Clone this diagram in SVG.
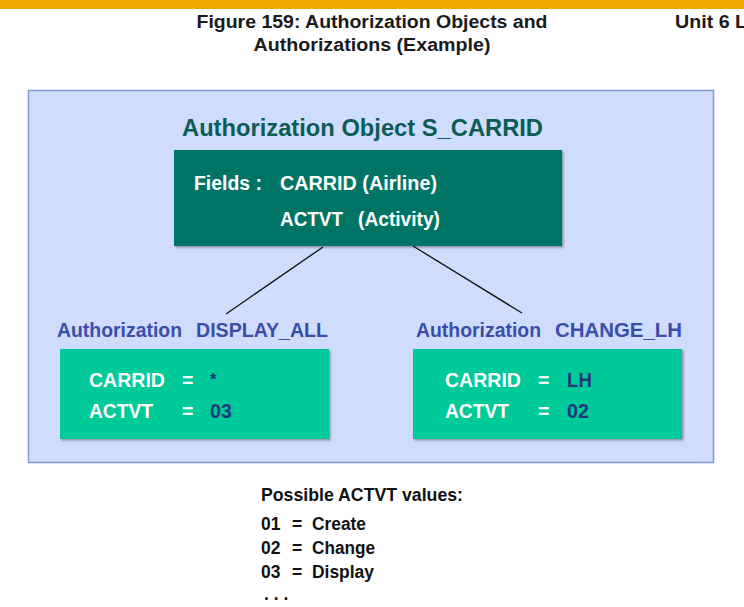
<svg xmlns="http://www.w3.org/2000/svg" width="744" height="607" viewBox="0 0 744 607">
<style>
text{font-family:"Liberation Sans",Arial,sans-serif;font-weight:bold}
.hdr{font-size:18px;fill:#1a1a1a}
.ttl{font-size:23px;fill:#0b5c55}
.wt{font-size:19.5px;fill:#ffffff}
.au{font-size:19.5px;fill:#3a4ea8}
.val{font-size:19.5px;fill:#1f3a7a}
.bt{font-size:17.5px;fill:#111}
.conn{stroke:#111;stroke-width:1.3;fill:none}
</style>
<defs>
<filter id="sh" x="-5%" y="-5%" width="110%" height="115%"><feDropShadow dx="1.5" dy="1.5" stdDeviation="0.8" flood-color="#000" flood-opacity="0.35"/></filter>
</defs>
<rect x="0" y="0" width="744" height="607" fill="#ffffff"/>
<rect x="0" y="0" width="744" height="9" fill="#f0a800"/>
<text class="hdr" x="372" y="28" text-anchor="middle" textLength="351" lengthAdjust="spacingAndGlyphs">Figure 159: Authorization Objects and</text>
<text class="hdr" x="372" y="51" text-anchor="middle" textLength="237" lengthAdjust="spacingAndGlyphs">Authorizations (Example)</text>
<text class="hdr" x="675" y="28" textLength="72" lengthAdjust="spacingAndGlyphs">Unit 6 L</text>

<g id="panel"><rect x="28.5" y="90.5" width="685" height="372" fill="#d0dcfc" stroke="#7f9ac8" stroke-width="1.5"/></g>

<g id="connectors">
<line class="conn" x1="323" y1="247" x2="226" y2="314"/>
<line class="conn" x1="413" y1="246" x2="522" y2="313"/>
</g>

<g id="object">
<text class="ttl" x="182" y="136" textLength="361" lengthAdjust="spacingAndGlyphs">Authorization Object S_CARRID</text>
<rect x="174" y="150" width="388" height="96" fill="#007466" filter="url(#sh)"/>
<text class="wt" x="194" y="190" textLength="68" lengthAdjust="spacingAndGlyphs">Fields :</text>
<text class="wt" x="280" y="190" textLength="157" lengthAdjust="spacingAndGlyphs">CARRID (Airline)</text>
<text class="wt" x="280" y="226" textLength="63" lengthAdjust="spacingAndGlyphs">ACTVT</text>
<text class="wt" x="358" y="226" textLength="82" lengthAdjust="spacingAndGlyphs">(Activity)</text>
</g>

<g id="auth-display">
<text class="au" x="57" y="337" textLength="125" lengthAdjust="spacingAndGlyphs">Authorization</text>
<text class="au" x="196" y="337" textLength="132" lengthAdjust="spacingAndGlyphs">DISPLAY_ALL</text>
<rect x="60" y="349" width="269" height="90" fill="#00c99a" filter="url(#sh)"/>
<text class="wt" x="89" y="387" textLength="76" lengthAdjust="spacingAndGlyphs">CARRID</text>
<text class="wt" x="182" y="387">=</text>
<text class="val" x="210" y="385" style="font-size:17px">*</text>
<text class="wt" x="89" y="418" textLength="64" lengthAdjust="spacingAndGlyphs">ACTVT</text>
<text class="wt" x="182" y="418">=</text>
<text class="val" x="210" y="418" textLength="22" lengthAdjust="spacingAndGlyphs">03</text>
</g>

<g id="auth-change">
<text class="au" x="416" y="337" textLength="125" lengthAdjust="spacingAndGlyphs">Authorization</text>
<text class="au" x="555" y="337" textLength="127" lengthAdjust="spacingAndGlyphs">CHANGE_LH</text>
<rect x="413" y="349" width="269" height="90" fill="#00c99a" filter="url(#sh)"/>
<text class="wt" x="445" y="387" textLength="76" lengthAdjust="spacingAndGlyphs">CARRID</text>
<text class="wt" x="538" y="387">=</text>
<text class="val" x="567" y="387" textLength="25" lengthAdjust="spacingAndGlyphs">LH</text>
<text class="wt" x="445" y="418" textLength="64" lengthAdjust="spacingAndGlyphs">ACTVT</text>
<text class="wt" x="538" y="418">=</text>
<text class="val" x="567" y="418" textLength="22" lengthAdjust="spacingAndGlyphs">02</text>
</g>

<g id="values">
<text class="bt" x="261" y="501" textLength="202" lengthAdjust="spacingAndGlyphs">Possible ACTVT values:</text>
<text class="bt" x="261" y="530">01</text><text class="bt" x="292" y="530">=</text><text class="bt" x="312" y="530" textLength="54" lengthAdjust="spacingAndGlyphs">Create</text>
<text class="bt" x="261" y="554">02</text><text class="bt" x="292" y="554">=</text><text class="bt" x="312" y="554" textLength="63" lengthAdjust="spacingAndGlyphs">Change</text>
<text class="bt" x="261" y="578">03</text><text class="bt" x="292" y="578">=</text><text class="bt" x="312" y="578" textLength="62" lengthAdjust="spacingAndGlyphs">Display</text>
<text class="bt" x="264" y="600">. . .</text>
</g>
</svg>
